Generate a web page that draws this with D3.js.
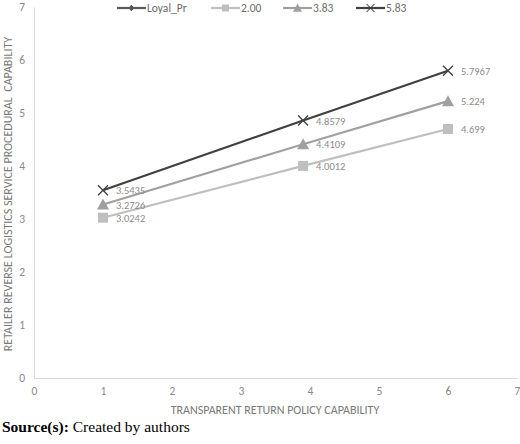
<!DOCTYPE html>
<html><head><meta charset="utf-8">
<script src="https://cdn.jsdelivr.net/npm/d3@7"></script>
<style>body{margin:0;background:#fff}svg{display:block}text{font-family:Carlito,Calibri,Lato,"Open Sans",sans-serif}</style>
</head><body>
<script>
const xValues = [1, 3.9, 6];
const seriesNames = ["Loyal_Pr", "2.00", "3.83", "5.83"];
const s200 = [3.0242, 4.0012, 4.699];
const s383 = [3.2726, 4.4109, 5.224];
const s583 = [3.5435, 4.8579, 5.7967];
const xTicks = [0,1,2,3,4,5,6,7];
const yTicks = [0,1,2,3,4,5,6,7];
const xTitle = "TRANSPARENT RETURN POLICY CAPABILITY";
const yTitle = "RETAILER REVERSE LOGISTICS SERVICE PROCEDURAL  CAPABILITY";

const W = 520, H = 444;
const svg = d3.select("body").append("svg").attr("width", W).attr("height", H);
const m = {l:34, r:517, t:7, b:378};
const x = d3.scaleLinear().domain([0,7]).range([m.l, m.r]);
const y = d3.scaleLinear().domain([0,7]).range([m.b, m.t]);

const fmt = d3.format("d");
const xa = svg.append("g").attr("transform",`translate(0,${m.b})`).call(d3.axisBottom(x).tickValues(xTicks).tickFormat(fmt).tickSize(0).tickPadding(9));
const ya = svg.append("g").attr("transform",`translate(${m.l},0)`).call(d3.axisLeft(y).tickValues(yTicks).tickFormat(fmt).tickSize(0).tickPadding(9));
[xa, ya].forEach(a => {
  a.select(".domain").attr("stroke","#d9d9d9").attr("stroke-width",1);
  a.selectAll("text").attr("fill","#8a8a8a").attr("font-size",11.5);
});

svg.append("text").attr("x",275).attr("y",414).attr("text-anchor","middle")
  .attr("font-size",12).attr("fill","#7a7a7a").text(xTitle);
svg.append("text").attr("transform",`translate(12,194) rotate(-90)`).attr("text-anchor","middle")
  .attr("font-size",12).attr("fill","#7a7a7a").style("white-space","pre").text(yTitle);

const series = [
  {name:"2.00", vals:s200, color:"#bfbfbf", sym:"square"},
  {name:"3.83", vals:s383, color:"#a0a0a0", sym:"triangle"},
  {name:"5.83", vals:s583, color:"#404040", sym:"x"}
];
const line = d3.line().x((d,i)=>x(xValues[i])).y(d=>y(d));

function marker(g, sym, color, cx, cy) {
  if (sym === "square") g.append("rect").attr("x",cx-5).attr("y",cy-5).attr("width",10).attr("height",10).attr("fill",color);
  else if (sym === "triangle") g.append("path").attr("d",`M${cx},${cy-6}L${cx+6},${cy+5}L${cx-6},${cy+5}Z`).attr("fill",color);
  else if (sym === "diamond") g.append("path").attr("d",`M${cx},${cy-4}L${cx+4},${cy}L${cx},${cy+4}L${cx-4},${cy}Z`).attr("fill",color);
  else if (sym === "x") g.append("path").attr("d",`M${cx-5},${cy-5}L${cx+5},${cy+5}M${cx-5},${cy+5}L${cx+5},${cy-5}`).attr("stroke",color).attr("stroke-width",1.3).attr("fill","none");
}

series.forEach(s => {
  svg.append("path").datum(s.vals).attr("d",line).attr("fill","none").attr("stroke",s.color).attr("stroke-width",2.2);
});
series.forEach(s => {
  const g = svg.append("g");
  s.vals.forEach((v,i) => {
    marker(g, s.sym, s.color, x(xValues[i]), y(v));
    g.append("text").attr("x", x(xValues[i])+13).attr("y", y(v)+4).attr("font-size",10.5).attr("fill","#8c8c8c").text(String(v));
  });
});

const legend = [
  {name:"Loyal_Pr", color:"#595959", sym:"diamond", x:117},
  {name:"2.00", color:"#bfbfbf", sym:"square", x:211},
  {name:"3.83", color:"#a0a0a0", sym:"triangle", x:283},
  {name:"5.83", color:"#404040", sym:"x", x:356}
];
legend.forEach(l => {
  const g = svg.append("g");
  g.append("line").attr("x1",l.x).attr("x2",l.x+29).attr("y1",8).attr("y2",8).attr("stroke",l.color).attr("stroke-width",2.2);
  const scale = l.sym === "square" ? 0.7 : (l.sym==="triangle"?0.75:0.8);
  const mg = g.append("g").attr("transform",`translate(${l.x+14.5},8) scale(${scale})`);
  marker(mg, l.sym, l.color, 0, 0);
  g.append("text").attr("x",l.x+30).attr("y",12).attr("font-size",11.5).attr("fill","#6b6b6b").text(l.name);
});

const src = svg.append("text").attr("x",2).attr("y",432).attr("font-size",15.5).attr("fill","#000")
  .style("font-family","'Liberation Serif','Times New Roman',serif");
src.append("tspan").attr("font-weight","bold").text("Source(s):");
src.append("tspan").text(" Created by authors");
</script>
</body></html>
